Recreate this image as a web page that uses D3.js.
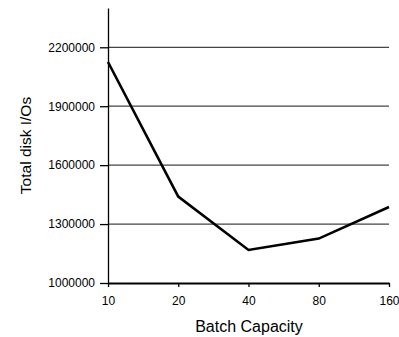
<!DOCTYPE html>
<html>
<head>
<meta charset="utf-8">
<script src="https://cdn.jsdelivr.net/npm/d3@7"></script>
<style>
  body { margin: 0; background: #fff; }
  text { font-family: Arial, "Liberation Sans", sans-serif; fill: #000; }
</style>
</head>
<body>
<div class="chart"></div>
<script>
const capacities = ["10", "20", "40", "80", "160"];
const diskIOs = [2125000, 1440000, 1168000, 1226000, 1387000];
const yTicks = [1000000, 1300000, 1600000, 1900000, 2200000];

const margin = { top: 8, right: 10, bottom: 54, left: 108 };
const width = 399 - margin.left - margin.right;
const height = 337 - margin.top - margin.bottom;

const svg = d3.select('.chart')
  .append('svg')
  .attr('width', 399)
  .attr('height', 337)
  .append('g')
  .attr('transform', `translate(${margin.left}, ${margin.top})`);

const yScale = d3.scaleLinear()
  .domain([1000000, 2400000])
  .range([height, 0]);

const xScale = d3.scalePoint()
  .domain(capacities)
  .range([0, 281]);

// gridlines
svg.selectAll('.grid')
  .data(yTicks.slice(1))
  .enter()
  .append('line')
  .attr('x1', 0)
  .attr('x2', 281)
  .attr('y1', d => yScale(d))
  .attr('y2', d => yScale(d))
  .attr('stroke', '#444')
  .attr('stroke-width', 1.3);

const yAxis = d3.axisLeft(yScale)
  .tickValues(yTicks)
  .tickSize(8)
  .tickSizeOuter(0)
  .tickPadding(5)
  .tickFormat(d3.format('d'));

const xAxis = d3.axisBottom(xScale)
  .tickSize(4)
  .tickSizeOuter(0)
  .tickPadding(9);

svg.append('g')
  .call(yAxis)
  .call(g => g.selectAll('text').style('font-size', '12px'))
  .call(g => g.selectAll('line, path').attr('stroke', '#000').attr('stroke-width', 1.3));

svg.append('g')
  .attr('transform', `translate(0, ${height})`)
  .call(xAxis)
  .call(g => g.selectAll('text').style('font-size', '12px'))
  .call(g => g.select('.domain').attr('stroke', '#000').attr('stroke-width', 2))
  .call(g => g.selectAll('.tick line').attr('stroke', '#000').attr('stroke-width', 1.3));

const line = d3.line()
  .x((d, i) => xScale(capacities[i]))
  .y(d => yScale(d));

svg.append('path')
  .datum(diskIOs)
  .attr('d', line)
  .attr('fill', 'none')
  .attr('stroke', '#000')
  .attr('stroke-width', 2.6);

svg.append('text')
  .attr('x', 141)
  .attr('y', height + 49)
  .attr('text-anchor', 'middle')
  .style('font-size', '16px')
  .text('Batch Capacity');

svg.append('text')
  .attr('transform', `translate(${31 - margin.left}, ${height / 2}) rotate(-90)`)
  .attr('text-anchor', 'middle')
  .style('font-size', '15.5px')
  .text('Total disk I/Os');
</script>
</body>
</html>
